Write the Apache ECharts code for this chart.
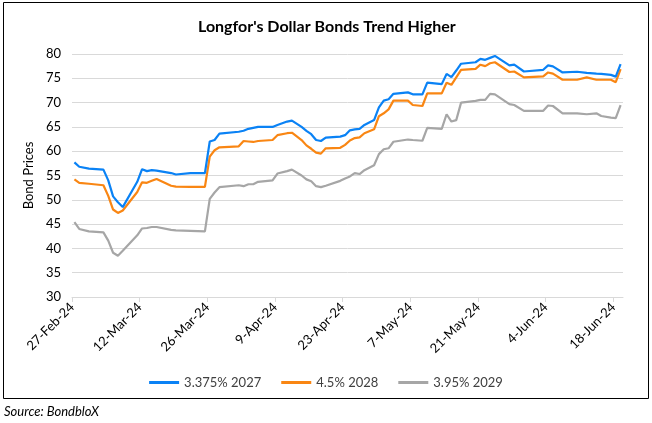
<!DOCTYPE html>
<html>
<head>
<meta charset="utf-8">
<script src="https://cdn.jsdelivr.net/npm/echarts@6/dist/echarts.min.js"></script>
<style>
  html, body { margin: 0; padding: 0; background: #fff; }
  #chart { width: 652px; height: 423px; }
</style>
</head>
<body>
<div id="chart"></div>
<script>
// days counted from 27-Feb-24
var days = [0, 1, 3, 6, 7, 8, 9, 10, 13, 14, 15, 16, 17, 20, 21, 24, 27, 28, 29, 30,
  34, 35, 36, 37, 38, 41, 42, 44, 45, 47, 48, 49, 50, 51, 52, 55, 56, 57, 58, 59,
  60, 62, 63, 64, 65, 66, 69, 70, 72, 73, 76, 77, 78, 79, 80, 83, 84, 85, 86, 87,
  90, 91, 93, 97, 98, 99, 101, 104, 106, 108, 109, 111, 112, 113];

var bond2027 = [57.7, 56.8, 56.4, 56.2, 54.0, 50.7, 49.5, 48.5, 53.7, 56.3, 55.9, 56.1, 56.0, 55.5, 55.2, 55.5, 55.5, 62.0, 62.3, 63.6,
  64.0, 64.2, 64.6, 64.8, 65.0, 65.0, 65.4, 66.1, 66.3, 65.0, 64.2, 63.5, 62.3, 62.1, 62.8, 63.0, 63.3, 64.3, 64.5, 64.6,
  65.4, 66.4, 69.0, 70.4, 70.7, 71.8, 72.1, 71.7, 71.7, 74.1, 73.8, 75.9, 75.25, 76.6, 78.0, 78.3, 79.0, 78.8, 79.2, 79.6,
  77.65, 77.8, 76.4, 76.75, 77.65, 77.45, 76.2, 76.35, 76.1, 75.95, 75.9, 75.7, 75.35, 77.9];

var bond2028 = [54.2, 53.5, 53.3, 53.0, 50.8, 48.0, 47.3, 47.8, 51.6, 53.6, 53.5, 53.9, 54.3, 52.9, 52.7, 52.65, 52.65, 58.9, 60.2, 60.8,
  61.0, 62.1, 62.0, 61.9, 62.1, 62.3, 63.3, 63.7, 63.8, 62.3, 61.2, 60.5, 59.7, 59.5, 60.6, 60.7, 61.3, 62.2, 62.7, 62.85,
  63.7, 64.5, 67.2, 67.8, 68.6, 70.4, 70.4, 69.5, 69.3, 71.9, 71.9, 74.1, 73.65, 75.2, 76.75, 76.95, 77.8, 77.5, 78.1, 78.3,
  76.3, 76.4, 75.2, 75.4, 76.2, 75.95, 74.7, 74.7, 75.2, 74.7, 74.7, 74.7, 74.2, 76.9];

var bond2029 = [45.4, 44.0, 43.5, 43.3, 41.6, 39.1, 38.5, 39.5, 42.7, 44.1, 44.2, 44.4, 44.4, 43.8, 43.7, 43.6, 43.5, 50.2, 51.5, 52.6,
  53.0, 52.8, 53.2, 53.2, 53.7, 54.0, 55.4, 55.9, 56.2, 55.0, 54.2, 53.8, 52.8, 52.6, 52.9, 53.9, 54.4, 54.8, 55.5, 55.3,
  56.1, 57.1, 59.4, 60.4, 60.6, 61.95, 62.4, 62.3, 62.15, 64.8, 64.6, 67.6, 66.1, 66.4, 70.0, 70.35, 70.55, 70.55, 71.8, 71.7,
  69.7, 69.5, 68.3, 68.3, 69.4, 69.3, 67.8, 67.8, 67.6, 67.8, 67.25, 66.9, 66.8, 69.5];

var tickDays = [0, 14, 28, 42, 56, 70, 84, 98, 112];
var tickLabels = ['27-Feb-24', '12-Mar-24', '26-Mar-24', '9-Apr-24', '23-Apr-24', '7-May-24', '21-May-24', '4-Jun-24', '18-Jun-24'];

var seriesNames = ['3.375% 2027', '4.5% 2028', '3.95% 2029'];
var seriesColors = ['#0a82f5', '#f98613', '#a6a6a6'];

function pairs(vals) {
  // Excel date axis puts each day's point in the middle of its day slot
  return days.map(function (d, i) { return [d + 0.5, vals[i]]; });
}

var myChart = echarts.init(document.getElementById('chart'));
var font = 'Lato, "Open Sans", sans-serif';

var option = {
  animation: false,
  textStyle: { fontFamily: font },
  title: {
    text: "Longfor's Dollar Bonds Trend Higher",
    left: 193,
    top: 14,
    textStyle: { fontSize: 16, fontWeight: 'bold', color: '#000', fontFamily: font }
  },
  grid: { left: 72, right: 29, top: 54, bottom: 126 },
  legend: {
    bottom: 29,
    left: 'center',
    itemWidth: 30,
    itemHeight: 3,
    itemGap: 20,
    icon: 'rect',
    textStyle: { fontSize: 13, color: '#404040', fontFamily: font },
    data: seriesNames
  },
  xAxis: {
    type: 'value',
    min: 0,
    max: 114,
    interval: 14,
    splitLine: { show: false },
    axisLine: { show: true, lineStyle: { color: '#d9d9d9', width: 1 } },
    axisTick: { show: true, length: 5, lineStyle: { color: '#d9d9d9' }, customValues: tickDays },
    axisLabel: {
      rotate: 45,
      fontSize: 13,
      color: '#000',
      margin: 8,
      customValues: tickDays,
      formatter: function (v) {
        var i = tickDays.indexOf(v);
        return i >= 0 ? tickLabels[i] : '';
      }
    }
  },
  yAxis: {
    type: 'value',
    min: 30,
    max: 80,
    interval: 5,
    name: 'Bond Prices',
    nameLocation: 'middle',
    nameGap: 33,
    nameTextStyle: { fontSize: 13, color: '#000', fontFamily: font },
    axisLine: { show: false },
    axisTick: { show: false },
    axisLabel: { fontSize: 13, color: '#000', margin: 11 },
    splitLine: { lineStyle: { color: '#d9d9d9', width: 1 } }
  },
  series: [bond2027, bond2028, bond2029].map(function (vals, i) {
    return {
      name: seriesNames[i],
      type: 'line',
      data: pairs(vals),
      showSymbol: false,
      symbol: 'none',
      lineStyle: { width: 2.2, color: seriesColors[i] },
      itemStyle: { color: seriesColors[i] },
      z: 3 - i
    };
  }),
  graphic: [
    {
      type: 'rect',
      shape: { x: 3.5, y: 2.5, width: 645, height: 396 },
      style: { fill: 'none', stroke: '#000', lineWidth: 1 },
      silent: true
    },
    {
      type: 'text',
      left: 4,
      top: 405,
      style: { text: 'Source: BondbloX', fill: '#000', font: 'italic 13px ' + font }
    }
  ]
};

myChart.setOption(option);
</script>
</body>
</html>
